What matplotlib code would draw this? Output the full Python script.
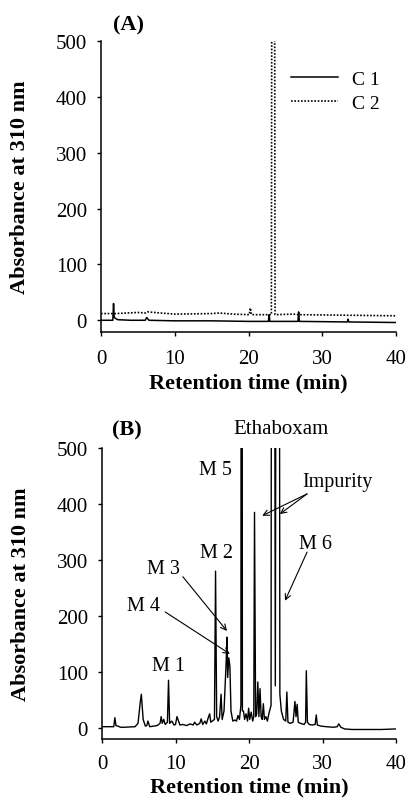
import matplotlib
matplotlib.use("Agg")
import matplotlib.pyplot as plt

plt.rcParams['font.family'] = ['Liberation Serif', 'DejaVu Serif']

# --- panel A: control chromatograms C1 (solid) and C2 (dotted)
c1_time = [0, 1.6, 1.7, 1.8, 2.0, 2.3, 4.0, 6.0, 6.2, 6.5, 10, 15, 20, 22.7, 22.8,
           22.9, 26.7, 26.8, 26.9, 33.4, 33.5, 33.6, 40]
c1_abs = [0, 0, 30, 5, 3, 1, 0, 0, 5, 0, -1, -1, -2, -2, 10,
          -2, -2, 15, -2, -3, 2, -3, -4]

c2_time = [0, 2, 5, 6, 6.3, 10, 15, 16, 18, 20.1, 20.25, 20.4, 23.1, 23.15,
           23.55, 23.6, 26, 27, 40]
c2_abs = [12, 12, 14, 13, 15, 11, 12, 13, 11, 10, 22, 10, 10, 520,
          520, 10, 11, 10, 8]

# --- panel B: sample chromatogram
b_time = [0, 1.6, 1.75, 1.9, 2.2, 2.5, 3.0, 4.5, 4.9, 5.2,
          5.35, 5.6, 5.9, 6.1, 6.25, 6.5, 7.5, 7.9, 8.05, 8.2,
          8.4, 8.6, 8.9, 9.05, 9.2, 9.5, 9.8, 10.0, 10.2, 10.6,
          11.0, 11.5, 12.0, 12.4, 12.6, 12.9, 13.3, 13.5, 13.7, 14.0,
          14.2, 14.5, 14.65, 14.8, 15.0, 15.3, 15.45, 15.6, 15.8, 16.0,
          16.2, 16.35, 16.6, 16.9, 17.0, 17.1, 17.25, 17.4, 17.55, 17.8,
          18.1, 18.3, 18.5, 18.7, 18.9, 19.0, 19.1, 19.25, 19.4, 19.6,
          19.8, 19.95, 20.1, 20.3, 20.5, 20.65, 20.75, 20.9, 21.05, 21.2,
          21.35, 21.5, 21.65, 21.8, 21.95, 22.1, 22.3, 22.5, 22.7, 23.0,
          23.2, 23.58, 23.95, 24.2, 24.4, 24.7, 25.0, 25.15, 25.3, 25.6,
          26.0, 26.25, 26.4, 26.55, 26.7, 27.0, 27.5, 27.7, 27.8, 27.95,
          28.2, 28.6, 29.0, 29.15, 29.3, 29.8, 30.5, 31.5, 32.0, 32.2,
          32.5, 33.0, 34.0, 36.0, 38.0, 40.0]
b_abs = [2, 2, 18, 4, 3, 1, 1, 2, 8, 45,
         60, 15, 3, 4, 12, 2, 4, 8, 20, 8,
         15, 6, 10, 85, 8, 12, 5, 6, 20, 5,
         6, 4, 7, 5, 10, 5, 8, 16, 6, 12,
         7, 20, 25, 10, 12, 15, 280, 20, 12, 20,
         60, 15, 30, 120, 162, 90, 125, 110, 30, 12,
         14, 12, 22, 15, 40, 3000, 30, 30, 15, 25,
         12, 35, 15, 28, 12, 20, 385, 20, 25, 82,
         20, 70, 20, 15, 43, 15, 20, 12, 25, 40,
         3000, 75, 3000, 60, 30, 15, 12, 64, 10, 8,
         10, 47, 20, 42, 10, 8, 6, 10, 102, 10,
         6, 5, 6, 23, 5, 3, 2, 1, 2, 7,
         1, -2, -3, -3, -3, -2]

x_ticks = [0, 10, 20, 30, 40]
y_ticks = [0, 100, 200, 300, 400, 500]

TICK_FS = 15
LABEL_FS = 16
NOTE_FS = 14.5


def style_axes(ax, ymin, xpad):
    ax.set_xlim(0, 40)
    ax.set_ylim(ymin, 500)
    ax.set_xticks(x_ticks)
    ax.set_yticks(y_ticks)
    for s in ('top', 'right'):
        ax.spines[s].set_visible(False)
    for s in ('left', 'bottom'):
        ax.spines[s].set_linewidth(1.1)
    ax.tick_params(direction='out', length=3, width=1.0, labelsize=TICK_FS)
    ax.tick_params(axis='y', pad=7)
    ax.tick_params(axis='x', pad=xpad)
    ax.set_ylabel('Absorbance at 310 nm', fontsize=LABEL_FS, fontweight='bold')
    ax.set_xlabel('Retention time (min)', fontsize=LABEL_FS, fontweight='bold')
    ax.yaxis.set_label_coords(-0.24, 0.5)


fig = plt.figure(figsize=(4.08, 8.03), dpi=100)

ax1 = fig.add_axes([101 / 408, 1 - 333 / 803, 295 / 408, 291 / 803])
ax1.plot(c1_time, c1_abs, color='black', lw=1.1, label='C 1')
ax1.plot(c2_time, c2_abs, color='black', lw=1.2, linestyle=(0, (1, 1)), label='C 2')
style_axes(ax1, -21, 9)
ax1.xaxis.set_label_coords(0.5, -0.138)
ax1.legend(loc='upper left', bbox_to_anchor=(0.645, 0.9), frameon=False,
           fontsize=14, handlelength=2.4, handletextpad=0.7,
           labelspacing=0.35, borderpad=0, borderaxespad=0)
fig.text(128 / 408, 1 - 25 / 803, '(A)', fontsize=LABEL_FS, fontweight='bold',
         ha='center', va='center')

ax2 = fig.add_axes([102 / 408, 1 - 740 / 803, 294 / 408, 291 / 803])
ax2.plot(b_time, b_abs, color='black', lw=1.0)
style_axes(ax2, -20, 8)
ax2.xaxis.set_label_coords(0.5, -0.128)
fig.text(127 / 408, 1 - 430 / 803, '(B)', fontsize=LABEL_FS, fontweight='bold',
         ha='center', va='center')

# peak labels and arrows
arrow = dict(arrowstyle='->', lw=0.8, color='black', shrinkA=0, shrinkB=0)
ax2.text(24.4, 534, 'Ethaboxam', fontsize=NOTE_FS + 0.5, ha='center', va='center')
ax2.text(15.5, 462, 'M 5', fontsize=NOTE_FS, ha='center', va='center')
ax2.text(32.0, 441, 'Impurity', fontsize=NOTE_FS, ha='center', va='center')
ax2.annotate('', xy=(21.8, 379), xytext=(27.9, 418), arrowprops=arrow)
ax2.annotate('', xy=(24.2, 382), xytext=(27.9, 418), arrowprops=arrow)
ax2.text(29.0, 329, 'M 6', fontsize=NOTE_FS, ha='center', va='center')
ax2.annotate('', xy=(24.9, 227), xytext=(27.9, 314), arrowprops=arrow)
ax2.text(15.6, 314, 'M 2', fontsize=NOTE_FS, ha='center', va='center')
ax2.text(8.3, 284, 'M 3', fontsize=NOTE_FS, ha='center', va='center')
ax2.annotate('', xy=(17.0, 173), xytext=(11.0, 270), arrowprops=arrow)
ax2.text(5.6, 218, 'M 4', fontsize=NOTE_FS, ha='center', va='center')
ax2.annotate('', xy=(17.4, 132), xytext=(8.6, 207), arrowprops=arrow)
ax2.text(9.0, 111, 'M 1', fontsize=NOTE_FS, ha='center', va='center')

fig.savefig('out.png', dpi=100)
